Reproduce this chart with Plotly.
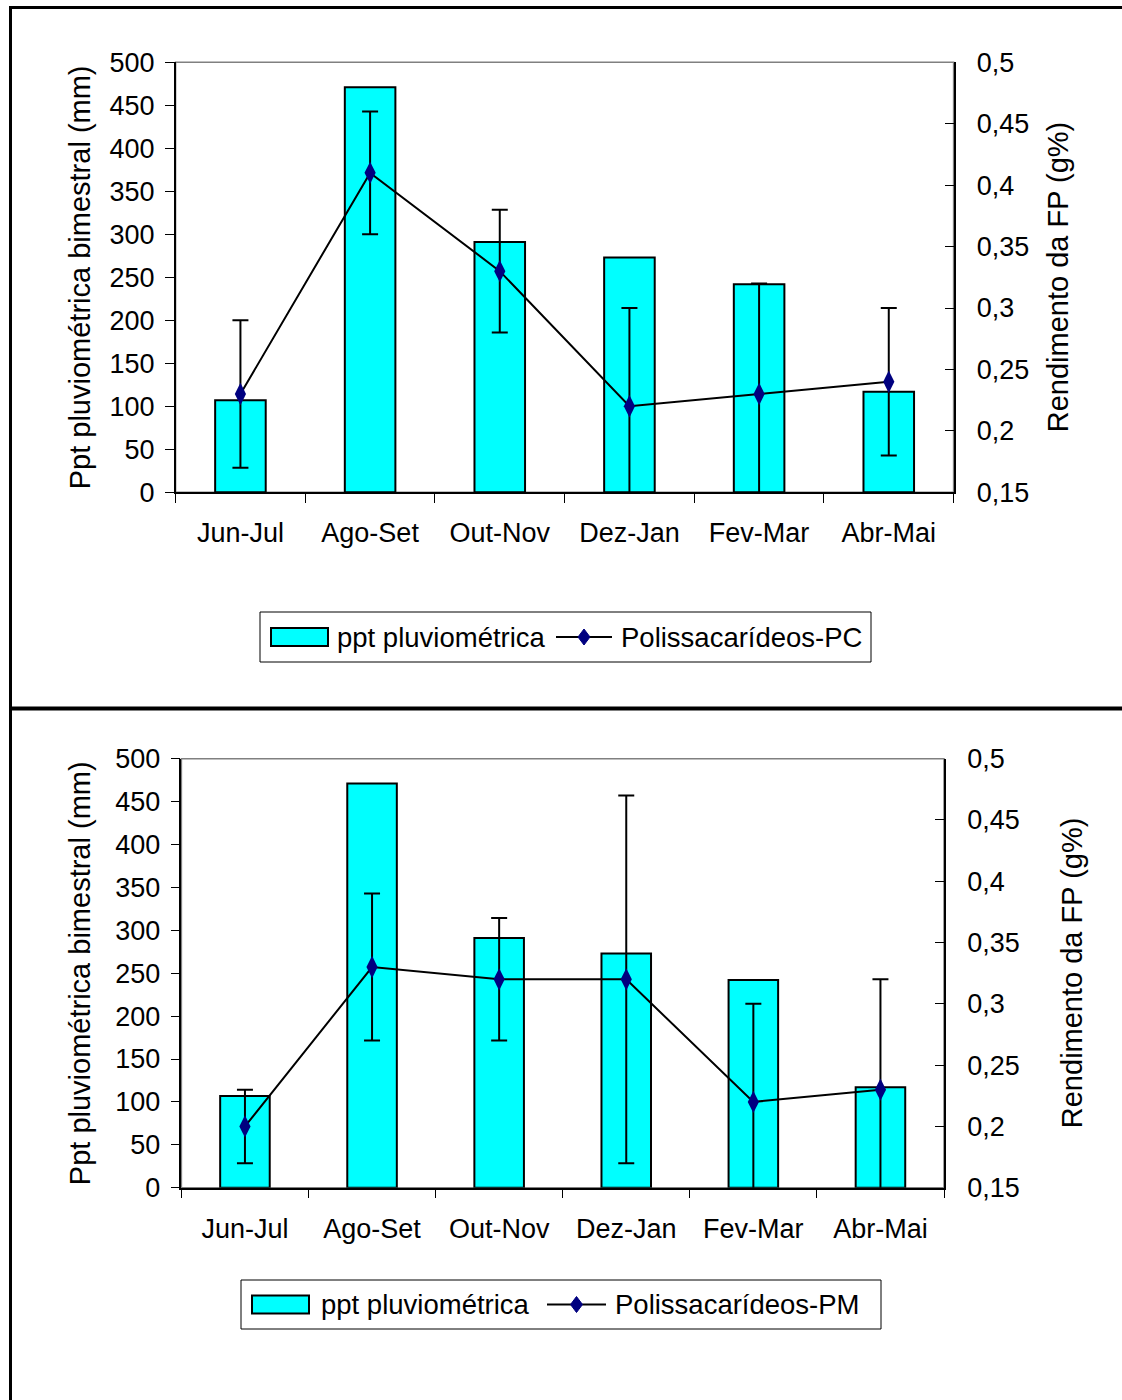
import plotly.graph_objects as go

# Bimonthly periods
categories = ["Jun-Jul", "Ago-Set", "Out-Nov", "Dez-Jan", "Fev-Mar", "Abr-Mai"]

# Bimonthly rainfall (mm)
ppt = [107, 471, 291, 273, 242, 117]

# Polysaccharide yield (g%) with error half-widths
pc = [0.23, 0.41, 0.33, 0.22, 0.23, 0.24]
pc_err = [0.06, 0.05, 0.05, 0.08, 0.09, 0.06]
pm = [0.20, 0.33, 0.32, 0.32, 0.22, 0.23]
pm_err = [0.03, 0.06, 0.05, 0.15, 0.08, 0.09]

# Right-axis tick labels (comma decimal)
y2_tickvals = [0.15, 0.2, 0.25, 0.3, 0.35, 0.4, 0.45, 0.5]
y2_ticktext = ["0,15", "0,2", "0,25", "0,3", "0,35", "0,4", "0,45", "0,5"]

W, H = 1122, 1400
FONT = "Liberation Sans, Arial, sans-serif"
FS_TICK = 27
FS_TITLE = 29
FS_LEG = 27.5
CYAN = "#00FFFF"
NAVY = "#000080"


def px(x):
    return x / W


def py(y):
    return (H - y) / H


fig = go.Figure()

panels = [
    dict(xa="x", ya="y", ya2="y2", y=pc, err=pc_err, name="Polissacarídeos-PC"),
    dict(xa="x2", ya="y3", ya2="y4", y=pm, err=pm_err, name="Polissacarídeos-PM"),
]

for p in panels:
    fig.add_trace(go.Bar(
        x=categories, y=ppt, xaxis=p["xa"], yaxis=p["ya"],
        name="ppt pluviométrica",
        marker=dict(color=CYAN, line=dict(color="black", width=2)),
        showlegend=False,
    ))
    fig.add_trace(go.Scatter(
        x=categories, y=p["y"], xaxis=p["xa"], yaxis=p["ya2"],
        name=p["name"], mode="lines+markers",
        line=dict(color="black", width=2),
        marker=dict(symbol="diamond-tall", size=16, color=NAVY),
        error_y=dict(type="data", array=p["err"], color="black",
                     thickness=2, width=8),
        showlegend=False,
    ))

# Plot-area geometry in pixels: (left, right, top, bottom)
areas = [(175.6, 953.6, 62.3, 492.3), (181.4, 944.0, 758.7, 1187.7)]

tickfont = dict(family=FONT, size=FS_TICK, color="black")
xcommon = dict(type="category", showgrid=False, showline=True,
               linecolor="black", linewidth=1.5, ticks="outside", ticklen=9,
               tickcolor="black", tickwidth=1, tickson="boundaries",
               tickfont=tickfont, ticklabelstandoff=16, zeroline=False,
               automargin=False)
ycommon = dict(range=[0, 500], dtick=50, showgrid=False, showline=True,
               linecolor="black", linewidth=1.5, ticks="outside", ticklen=9,
               tickcolor="black", tickwidth=1, zeroline=False,
               tickfont=tickfont, ticklabelstandoff=5, automargin=False)
y2common = dict(range=[0.15, 0.5], tickvals=y2_tickvals, ticktext=y2_ticktext,
                side="right", showgrid=False, showline=True,
                linecolor="black", linewidth=1.5, ticks="inside", ticklen=9,
                tickcolor="black", tickwidth=1, zeroline=False,
                tickfont=tickfont, ticklabelstandoff=16, automargin=False)

(l1, r1, t1, b1), (l2, r2, t2, b2) = areas
fig.update_layout(
    xaxis=dict(domain=[px(l1), px(r1)], anchor="y", **xcommon),
    yaxis=dict(domain=[py(b1), py(t1)], anchor="x", **ycommon),
    yaxis2=dict(overlaying="y", anchor="x", **y2common),
    xaxis2=dict(domain=[px(l2), px(r2)], anchor="y3", **xcommon),
    yaxis3=dict(domain=[py(b2), py(t2)], anchor="x2", **ycommon),
    yaxis4=dict(overlaying="y3", anchor="x2", **y2common),
)

shapes = []
annotations = []

# Grey plot-area frames
for (l, r, t, b) in areas:
    shapes.append(dict(type="rect", xref="paper", yref="paper",
                       x0=px(l), x1=px(r), y0=py(b), y1=py(t),
                       line=dict(color="#808080", width=1.5), layer="below"))

# Chart borders
shapes.append(dict(type="line", xref="paper", yref="paper",
                   x0=px(10), x1=px(1122), y0=py(7.5), y1=py(7.5),
                   line=dict(color="black", width=3)))
shapes.append(dict(type="line", xref="paper", yref="paper",
                   x0=px(10.5), x1=px(10.5), y0=py(6), y1=py(1400),
                   line=dict(color="black", width=3)))
shapes.append(dict(type="line", xref="paper", yref="paper",
                   x0=px(10), x1=px(1122), y0=py(708.5), y1=py(708.5),
                   line=dict(color="black", width=4)))

# Axis titles
titles = [
    (80, (t1 + b1) / 2, "Ppt pluviométrica bimestral (mm)"),
    (1058, (t1 + b1) / 2, "Rendimento da FP (g%)"),
    (80, (t2 + b2) / 2, "Ppt pluviométrica bimestral (mm)"),
    (1072, (t2 + b2) / 2, "Rendimento da FP (g%)"),
]
for x, y, txt in titles:
    annotations.append(dict(xref="paper", yref="paper", x=px(x), y=py(y),
                            text=txt, textangle=-90, showarrow=False,
                            xanchor="center", yanchor="middle",
                            font=dict(family=FONT, size=FS_TITLE, color="black")))

# Legends: (box left, right, top, bottom, rect left, text1 x, line x0, line x1, text2 x, label)
legends = [
    (260, 871, 612, 662, 271, 335, 556, 612, 619, "Polissacarídeos-PC"),
    (241, 881, 1280, 1329, 252, 319, 547, 606, 613, "Polissacarídeos-PM"),
]
for (bl, br, bt, bb, rl, tx1, lx0, lx1, tx2, lab) in legends:
    cy = (bt + bb) / 2
    shapes.append(dict(type="rect", xref="paper", yref="paper",
                       x0=px(bl), x1=px(br), y0=py(bb), y1=py(bt),
                       line=dict(color="black", width=1), fillcolor="white"))
    shapes.append(dict(type="rect", xref="paper", yref="paper",
                       x0=px(rl), x1=px(rl + 57), y0=py(cy + 9), y1=py(cy - 9),
                       line=dict(color="black", width=2), fillcolor=CYAN))
    shapes.append(dict(type="line", xref="paper", yref="paper",
                       x0=px(lx0), x1=px(lx1), y0=py(cy), y1=py(cy),
                       line=dict(color="black", width=2)))
    mx = (lx0 + lx1) / 2
    shapes.append(dict(type="path", xref="paper", yref="paper",
                       path=f"M{px(mx - 6)},{py(cy)} L{px(mx)},{py(cy - 8)} "
                            f"L{px(mx + 6)},{py(cy)} L{px(mx)},{py(cy + 8)} Z",
                       line=dict(color=NAVY, width=1), fillcolor=NAVY))
    annotations.append(dict(xref="paper", yref="paper", x=px(tx1), y=py(cy),
                            text="ppt pluviométrica", showarrow=False,
                            xanchor="left", yanchor="middle",
                            font=dict(family=FONT, size=FS_LEG, color="black")))
    annotations.append(dict(xref="paper", yref="paper", x=px(tx2), y=py(cy),
                            text=lab, showarrow=False,
                            xanchor="left", yanchor="middle",
                            font=dict(family=FONT, size=FS_LEG, color="black")))

fig.update_layout(
    width=W, height=H, margin=dict(l=0, r=0, t=0, b=0, autoexpand=False),
    paper_bgcolor="white", plot_bgcolor="white",
    bargap=0.61, showlegend=False,
    shapes=shapes, annotations=annotations,
    font=dict(family=FONT, size=FS_TICK, color="black"),
)

fig.write_html("out.html")
